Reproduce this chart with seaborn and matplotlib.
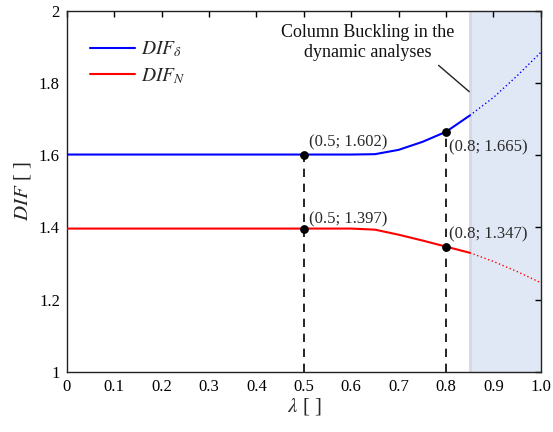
import numpy as np
import pandas as pd
import matplotlib
matplotlib.use("Agg")
import matplotlib.pyplot as plt
import seaborn as sns

# Slenderness values and dynamic increase factors
lam_solid = [0.0, 0.1, 0.2, 0.3, 0.4, 0.5, 0.6, 0.65, 0.7, 0.75, 0.8, 0.85]
dif_delta_solid = [1.602, 1.602, 1.602, 1.602, 1.602, 1.602, 1.602, 1.603, 1.615, 1.637, 1.665, 1.710]
dif_n_solid = [1.397, 1.397, 1.397, 1.397, 1.397, 1.397, 1.397, 1.394, 1.380, 1.364, 1.347, 1.330]

lam_buckled = [0.85, 0.9, 0.95, 1.0]
dif_delta_buckled = [1.710, 1.760, 1.820, 1.885]
dif_n_buckled = [1.330, 1.306, 1.278, 1.247]

# Highlighted points
pt_lam = [0.5, 0.8]
pt_delta = [1.602, 1.665]
pt_n = [1.397, 1.347]

xticks = [0, 0.1, 0.2, 0.3, 0.4, 0.5, 0.6, 0.7, 0.8, 0.9, 1.0]
xticklabels = ["0", "0.1", "0.2", "0.3", "0.4", "0.5", "0.6", "0.7", "0.8", "0.9", "1.0"]
yticks = [1, 1.2, 1.4, 1.6, 1.8, 2]
yticklabels = ["1", "1.2", "1.4", "1.6", "1.8", "2"]

sns.set_theme(style="white")
plt.rcParams["font.family"] = ["Liberation Serif", "DejaVu Serif"]
plt.rcParams["mathtext.fontset"] = "stix"

fig = plt.figure(figsize=(5.53, 4.32), dpi=100)
ax = fig.add_axes([0.121, 0.139, 0.857, 0.836])

# Buckling zone
ax.axvspan(0.85, 1.0, facecolor="#e1e8f5", edgecolor="none", zorder=0)
ax.axvline(0.85, color="#d3d9e2", lw=2.0, zorder=0.5)

solid = pd.DataFrame({"lam": lam_solid, "delta": dif_delta_solid, "n": dif_n_solid})
buck = pd.DataFrame({"lam": lam_buckled, "delta": dif_delta_buckled, "n": dif_n_buckled})

sns.lineplot(data=solid, x="lam", y="delta", color="#0000ff", lw=1.5, ax=ax,
             label=r"$DIF_{\delta}$", zorder=3)
sns.lineplot(data=solid, x="lam", y="n", color="#ff0000", lw=1.5, ax=ax,
             label=r"$DIF_{N}$", zorder=3)
sns.lineplot(data=buck, x="lam", y="delta", color="#0000ff", lw=1.0, ax=ax,
             linestyle=(0, (1, 1.8)), zorder=3)
sns.lineplot(data=buck, x="lam", y="n", color="#ff0000", lw=1.0, ax=ax,
             linestyle=(0, (1, 1.8)), zorder=3)

# Dashed guides and marked points
for xv, yd, yn in zip(pt_lam, pt_delta, pt_n):
    ax.plot([xv, xv], [1.0, yd], color="black", lw=1.2, linestyle=(0, (5, 4)), zorder=2)
sns.scatterplot(x=pt_lam + pt_lam, y=pt_delta + pt_n, color="black", s=40,
                ax=ax, zorder=4, edgecolor="black", linewidth=0)

fs = 12
tc = "#2a2a2a"
ax.annotate(f"({pt_lam[0]}; {pt_delta[0]:.3f})", (pt_lam[0], pt_delta[0]),
            xytext=(4, 6), textcoords="offset points", fontsize=fs, color=tc)
ax.annotate(f"({pt_lam[0]}; {pt_n[0]:.3f})", (pt_lam[0], pt_n[0]),
            xytext=(4, 4), textcoords="offset points", fontsize=fs, color=tc)
ax.annotate(f"({pt_lam[1]}; {pt_delta[1]:.3f})", (pt_lam[1], pt_delta[1]),
            xytext=(2, -14), textcoords="offset points", fontsize=fs, color=tc)
ax.annotate(f"({pt_lam[1]}; {pt_n[1]:.3f})", (pt_lam[1], pt_n[1]),
            xytext=(2, 6), textcoords="offset points", fontsize=fs, color=tc)

ax.annotate("Column Buckling in the\ndynamic analyses", xy=(0.849, 1.776),
            xytext=(0.635, 1.912), ha="center", va="center", fontsize=13,
            linespacing=1.25, color="#111111",
            arrowprops=dict(arrowstyle="-", color="#222222", lw=1.0,
                            shrinkA=1, shrinkB=0, relpos=(0.88, 0.0)))

ax.set_xlim(0, 1.0)
ax.set_ylim(1, 2)
ax.set_xticks(xticks)
ax.set_xticklabels(xticklabels)
ax.set_yticks(yticks)
ax.set_yticklabels(yticklabels)
ax.tick_params(direction="in", length=4, width=1, top=True, right=True,
               labelsize=12, colors="black", pad=5)
for s in ax.spines.values():
    s.set_color("#222222")
    s.set_linewidth(1.0)

ax.set_xlabel(r"$\lambda$ [ ]", fontsize=15, labelpad=1)
ax.set_ylabel(r"$DIF$ [ ]", fontsize=15, labelpad=4)

leg = ax.legend(loc="upper left", frameon=False, fontsize=14, handlelength=2.3,
                handletextpad=0.3, borderaxespad=0.8, labelspacing=0.35,
                bbox_to_anchor=(0.0, 0.985))

fig.savefig("out.png", dpi=100)
